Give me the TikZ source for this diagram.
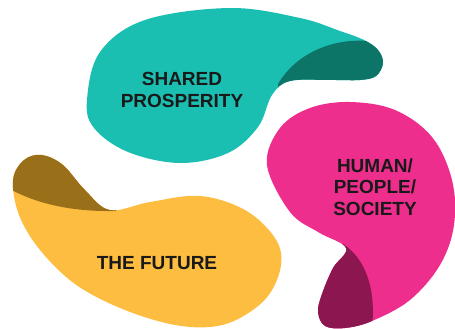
\documentclass[tikz,border=0pt]{standalone}
\usepackage{fontspec}
\setmainfont{Liberation Sans}
\definecolor{teal1}{HTML}{1BBFB2}
\definecolor{teal2}{HTML}{0C7568}
\definecolor{pink1}{HTML}{EE2E8D}
\definecolor{pink2}{HTML}{8C1650}
\definecolor{yel1}{HTML}{FDBD40}
\definecolor{yel2}{HTML}{9A6F1A}
\tikzset{
  lbl/.style={font=\fontsize{19}{21.5}\selectfont\bfseries, text=black!90, align=center, inner sep=0pt},
}
\begin{document}
\begin{tikzpicture}[x=1pt,y=-1pt]
\useasboundingbox (0,0) rectangle (455,329);
% teal
\def\tealpath{plot[smooth cycle, tension=0.6] coordinates {(87,100) (100,52) (145,20) (230,8) (300,18) (340,31) (364,40) (378,50) (383,63) (376,76) (360,80) (330,80) (290,81) (272,95) (258,127) (228,153) (180,163) (128,152) (94,128)}}
\fill[teal1] \tealpath;
\begin{scope}
\clip \tealpath;
\fill[teal2] (278,84) .. controls (295,55) and (330,38) .. (368,41) -- (420,30) -- (420,110) -- (278,110) -- cycle;
\end{scope}
% pink
\def\pinkpath{plot[smooth cycle, tension=0.6] coordinates {(267,165) (280,128) (310,108) (350,102) (395,110) (432,137) (452,180) (454,225) (440,265) (410,300) (372,321) (345,328) (325,326) (318,312) (322,294) (333,268) (346,248) (318,232) (290,212)}}
\fill[pink1] \pinkpath;
\begin{scope}
\clip \pinkpath;
\fill[pink2] (343,244) .. controls (365,258) and (378,290) .. (371,335) -- (290,335) -- (290,244) -- cycle;
\end{scope}
% yellow
\def\yelpath{plot[smooth cycle, tension=0.6] coordinates {(13,180) (24,160) (42,155) (63,165) (85,190) (110,210) (150,202) (200,196) (245,210) (275,238) (281,265) (268,296) (240,318) (210,327) (170,324) (120,308) (75,284) (40,250) (19,215)}}
\fill[yel1] \yelpath;
\begin{scope}
\clip \yelpath;
\fill[yel2] (0,183) .. controls (30,203) and (70,212) .. (116,211) -- (116,140) -- (0,140) -- cycle;
\end{scope}
\node[lbl] (shared) at (182,90) {SHARED\\PROSPERITY};
\node[lbl] (human) at (375,187) {HUMAN/\\PEOPLE/\\SOCIETY};
\node[lbl] (future) at (157,263) {THE FUTURE};
\end{tikzpicture}
\end{document}
